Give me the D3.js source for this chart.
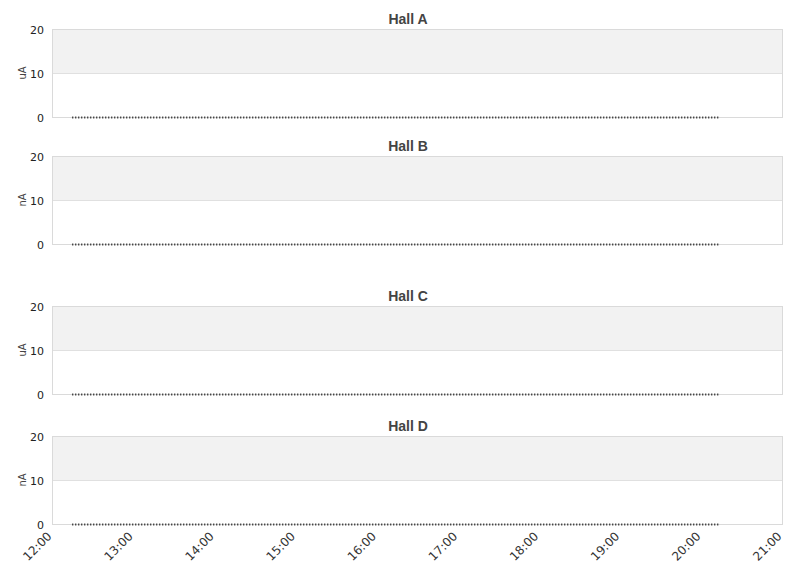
<!DOCTYPE html>
<html>
<head>
<meta charset="utf-8">
<script src="https://cdn.jsdelivr.net/npm/d3@7"></script>
<style>
  body { margin: 0; background: #fff; }
  .tick text { font-family: "DejaVu Sans", sans-serif; }
</style>
</head>
<body>
<div id="chart"></div>
<script>
// panels (one per hall)
var halls = ["Hall A", "Hall B", "Hall C", "Hall D"];
var units = ["uA", "nA", "uA", "nA"];
// readings: first and last sample time, value at each (all flat at zero)
var sampleTimes = ["12:15", "20:13"];
var hallA = [0, 0];
var hallB = [0, 0];
var hallC = [0, 0];
var hallD = [0, 0];
var series = [hallA, hallB, hallC, hallD];
var yTicks = [0, 10, 20];
var xTicks = ["12:00", "13:00", "14:00", "15:00", "16:00", "17:00", "18:00", "19:00", "20:00", "21:00"];

var width = 811, height = 578;
var left = 52, right = 782;
var panelTops = [29, 156, 306, 436];
var panelH = 88;

var parse = d3.timeParse("%H:%M");
var fmt = d3.timeFormat("%H:%M");

var x = d3.scaleTime()
  .domain([parse(xTicks[0]), parse(xTicks[xTicks.length - 1])])
  .range([left, right]);

var svg = d3.select("#chart")
  .append("svg")
  .attr("width", width)
  .attr("height", height);

halls.forEach(function(name, i) {
  var top = panelTops[i];
  var y = d3.scaleLinear().domain([0, 20]).range([top + panelH, top]);

  var g = svg.append("g");

  // alternating bands
  g.append("rect")
    .attr("x", left).attr("width", right - left)
    .attr("y", y(20)).attr("height", y(10) - y(20))
    .attr("fill", "#f2f2f2");

  // grid line at 10
  g.append("line")
    .attr("x1", left).attr("x2", right)
    .attr("y1", y(10) + 0.5).attr("y2", y(10) + 0.5)
    .attr("stroke", "#e0e0e0");

  // frame
  g.append("rect")
    .attr("x", left + 0.5).attr("y", top + 0.5)
    .attr("width", right - left).attr("height", panelH)
    .attr("fill", "none")
    .attr("stroke", "#dadada");

  // y axis
  var ya = g.append("g")
    .attr("transform", "translate(" + left + ",1)")
    .call(d3.axisLeft(y).tickValues(yTicks).tickSize(0).tickPadding(8));
  ya.select(".domain").remove();
  ya.selectAll("text").attr("font-size", 11).attr("fill", "#222");

  // unit label
  g.append("text")
    .attr("transform", "translate(26," + (top + panelH / 2) + ") rotate(-90)")
    .attr("text-anchor", "middle")
    .attr("font-family", "DejaVu Sans, sans-serif")
    .attr("font-size", 10)
    .attr("fill", "#444")
    .text(units[i]);

  // title
  g.append("text")
    .attr("x", 408).attr("y", top - 5)
    .attr("text-anchor", "middle")
    .attr("font-family", "Liberation Sans, Arial, sans-serif")
    .attr("font-weight", "bold")
    .attr("font-size", 14)
    .attr("fill", "#444")
    .text(name);

  // readings
  var pts = sampleTimes.map(function(t, k) { return { t: parse(t), v: series[i][k] }; });
  var line = d3.line()
    .x(function(d) { return x(d.t); })
    .y(function(d) { return y(d.v) + 0.5; });
  g.append("path")
    .datum(pts)
    .attr("d", line)
    .attr("fill", "none")
    .attr("stroke", "#111")
    .attr("stroke-width", 2)
    .attr("stroke-dasharray", "1,2");
});

// x axis under the last panel
var xa = svg.append("g")
  .attr("transform", "translate(0," + (panelTops[3] + panelH) + ")")
  .call(d3.axisBottom(x).tickValues(xTicks.map(parse)).tickFormat(fmt).tickSize(0));
xa.select(".domain").remove();
xa.selectAll("text")
  .attr("font-family", "Liberation Sans, Arial, sans-serif")
  .attr("font-size", 12)
  .attr("fill", "#333")
  .attr("text-anchor", "end")
  .attr("dy", null)
  .attr("transform", "translate(0,13) rotate(-45)")
  .attr("y", 0)
  .attr("x", 0);
</script>
</body>
</html>
